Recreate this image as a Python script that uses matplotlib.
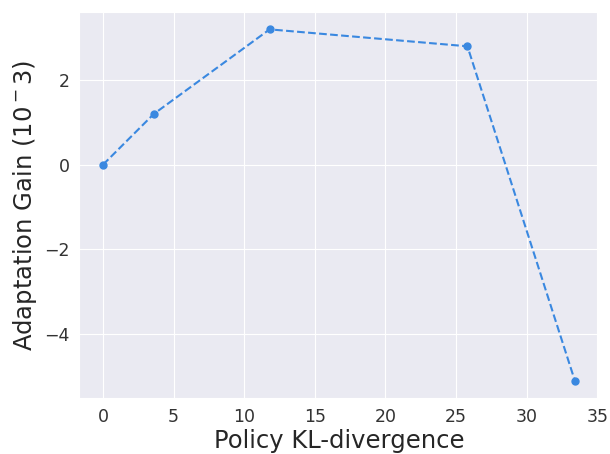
import matplotlib
matplotlib.use("Agg")
import matplotlib.pyplot as plt
import seaborn as sns

kl_div = [0.0, 3.6, 11.8, 25.8, 33.4]
gain = [0.0, 1.2, 3.2, 2.8, -5.1]
x_ticks = [0, 5, 10, 15, 20, 25, 30, 35]
y_ticks = [-4, -2, 0, 2]

sns.set_style("darkgrid")
plt.rcParams['font.family'] = ['DejaVu Sans']

fig, ax = plt.subplots(figsize=(6.1, 4.54), dpi=100)
ax.plot(kl_div, gain, "--o", color="#3a88e0", markersize=5, linewidth=1.5)
ax.set_xticks(x_ticks)
ax.set_yticks(y_ticks)
ax.tick_params(labelsize=12.5, colors="#333333")
ax.set_xlabel("Policy KL-divergence", fontsize=17.5, color="#262626", labelpad=2)
ax.set_ylabel("Adaptation Gain (10$^-$3)", fontsize=17.5, color="#262626")
fig.subplots_adjust(left=0.13, right=0.981, top=0.974, bottom=0.123)
fig.savefig("out.png", dpi=100)
